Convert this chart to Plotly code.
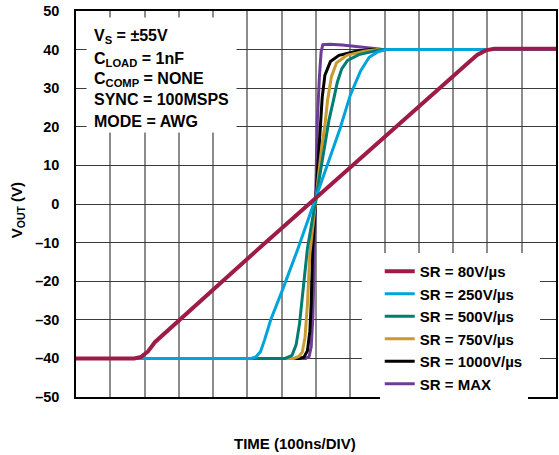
import plotly.graph_objects as go

# ---- data (time in ns, 100 ns/div; voltage in V) ----
names = ["SR = 80V/µs", "SR = 250V/µs", "SR = 500V/µs", "SR = 750V/µs", "SR = 1000V/µs", "SR = MAX"]
colors = ["#9E1B47", "#00A3DA", "#007D72", "#C99A2E", "#000000", "#6E3C96"]

t_80 = [0, 170, 190, 210, 230, 300, 420, 530, 700, 854, 950, 1048, 1144, 1170, 1195, 1220, 1400]
v_80 = [-40, -40, -39.6, -38.2, -35.8, -30.1, -20.6, -11.8, 1.5, 13.5, 21.2, 29.0, 36.6, 38.6, 39.8, 40.2, 40.2]

t_250 = [0, 510, 525, 538, 550, 568, 602, 646, 699, 735, 770, 800, 830, 855, 880, 905, 1400]
v_250 = [-40, -40, -39.6, -38.3, -35.2, -30.0, -22.3, -11.9, 1.5, 10.5, 19.5, 28.2, 34.5, 38.0, 39.4, 40.0, 40.0]

t_500 = [0, 610, 630, 642, 652, 660, 675, 700, 720, 738, 750, 762, 775, 792, 825, 860, 890, 1400]
v_500 = [-40, -40, -39.2, -36.5, -31.0, -24.0, -11.5, 1.5, 12.0, 21.8, 26.5, 31.5, 35.0, 37.2, 38.7, 39.5, 40.0, 40.0]

t_750 = [0, 635, 650, 660, 668, 675, 682, 700, 715, 726, 734, 745, 760, 790, 840, 880, 1400]
v_750 = [-40, -40, -39.5, -38.4, -34.5, -26.0, -13.0, 1.5, 13.5, 20.5, 27.0, 33.0, 36.6, 38.5, 39.6, 40.0, 40.0]

t_1000 = [0, 650, 665, 675, 682, 686, 690, 700, 708, 713, 718, 726, 742, 767, 815, 860, 1400]
v_1000 = [-40, -40, -39.7, -38.0, -33.0, -26.0, -12.0, 1.5, 14.0, 21.0, 27.5, 33.4, 36.9, 38.5, 39.5, 40.0, 40.0]

t_max = [0, 670, 680, 686, 691, 695, 700, 704, 710, 715, 720, 740, 777, 815, 850, 890, 910, 1400]
v_max = [-40, -40, -39.5, -37.0, -29.0, -12.0, 1.5, 22.0, 33.0, 39.5, 41.3, 41.4, 41.2, 40.8, 40.4, 40.1, 40.0, 40.0]

times = [t_80, t_250, t_500, t_750, t_1000, t_max]
volts = [v_80, v_250, v_500, v_750, v_1000, v_max]

y_ticks = [50, 40, 30, 20, 10, 0, -10, -20, -30, -40, -50]
y_tick_text = ["50", "40", "30", "20", "10", "0", "–10", "–20", "–30", "–40", "–50"]
x_ticks = list(range(0, 1401, 100))

info_lines = ["V<sub>S</sub> = ±55V", "C<sub>LOAD</sub> = 1nF", "C<sub>COMP</sub> = NONE",
              "SYNC = 100MSPS", "MODE = AWG"]

FONT = "Liberation Sans, Arial, sans-serif"

fig = go.Figure()
# draw in reverse so the slow traces end up on top
for i in reversed(range(len(names))):
    fig.add_trace(go.Scatter(
        x=times[i], y=volts[i], mode="lines", name=names[i],
        line=dict(color=colors[i], width=4 if i == 0 else 3),
    ))

W, H = 559, 455
L, R, T, B = 76, 1, 11, 58
pw, ph = W - L - R, H - T - B

def px_x(p):
    return (p - L) / pw

def px_y(p):
    return (H - B - p) / ph

fig.update_layout(
    width=W, height=H,
    margin=dict(l=L, r=R, t=T, b=B),
    paper_bgcolor="white", plot_bgcolor="white",
    font=dict(family=FONT, color="black"),
    showlegend=True,
    legend=dict(
        x=px_x(381), y=px_y(255), xanchor="left", yanchor="top",
        bgcolor="white", borderwidth=0, traceorder="reversed",
        font=dict(size=15, family=FONT, weight="bold", color="black"),
    ),
    xaxis=dict(
        range=[0, 1400], tickvals=x_ticks, showticklabels=False,
        showgrid=True, gridcolor="#8c8c8c", gridwidth=1.5,
        showline=True, linecolor="black", linewidth=1.5, mirror=True,
        zeroline=False, ticks="",
    ),
    yaxis=dict(
        range=[-50, 50], tickvals=y_ticks, ticktext=y_tick_text,
        showgrid=True, gridcolor="#3a3a3a", gridwidth=1.2,
        showline=True, linecolor="black", linewidth=1.5, mirror=True,
        zeroline=False, ticks="", ticklabelstandoff=12,
        tickfont=dict(size=14.5, family=FONT, weight="bold", color="black"),
    ),
)

# white panel behind the legend (hides the grid as in the reference)
fig.add_shape(
    type="rect", xref="paper", yref="paper", layer="above",
    x0=px_x(363), x1=px_x(542), y0=px_y(387), y1=px_y(253),
    fillcolor="white", opacity=1, line=dict(width=0),
)

# white panel behind the condition box
fig.add_annotation(
    xref="paper", yref="paper", x=px_x(86), y=px_y(17),
    xanchor="left", yanchor="top", text=" ", showarrow=False,
    width=149, height=114, bgcolor="white", borderpad=0,
)

line_centers = [36, 59, 80, 99, 121]
for txt, yc in zip(info_lines, line_centers):
    fig.add_annotation(
        xref="paper", yref="paper", x=px_x(92), y=px_y(yc),
        xanchor="left", yanchor="middle", align="left",
        text=txt, showarrow=False,
        font=dict(size=16, family=FONT, weight="bold", color="black"),
    )

fig.add_annotation(
    xref="paper", yref="paper", x=px_x(296), y=px_y(443),
    xanchor="center", yanchor="middle", text="TIME (100ns/DIV)", showarrow=False,
    font=dict(size=15, family=FONT, weight="bold", color="black"),
)

fig.add_annotation(
    xref="paper", yref="paper", x=px_x(17), y=px_y(210),
    xanchor="center", yanchor="middle", textangle=-90,
    text="V<sub>OUT</sub> (V)", showarrow=False,
    font=dict(size=15, family=FONT, weight="bold", color="black"),
)

fig.write_html("out.html")
